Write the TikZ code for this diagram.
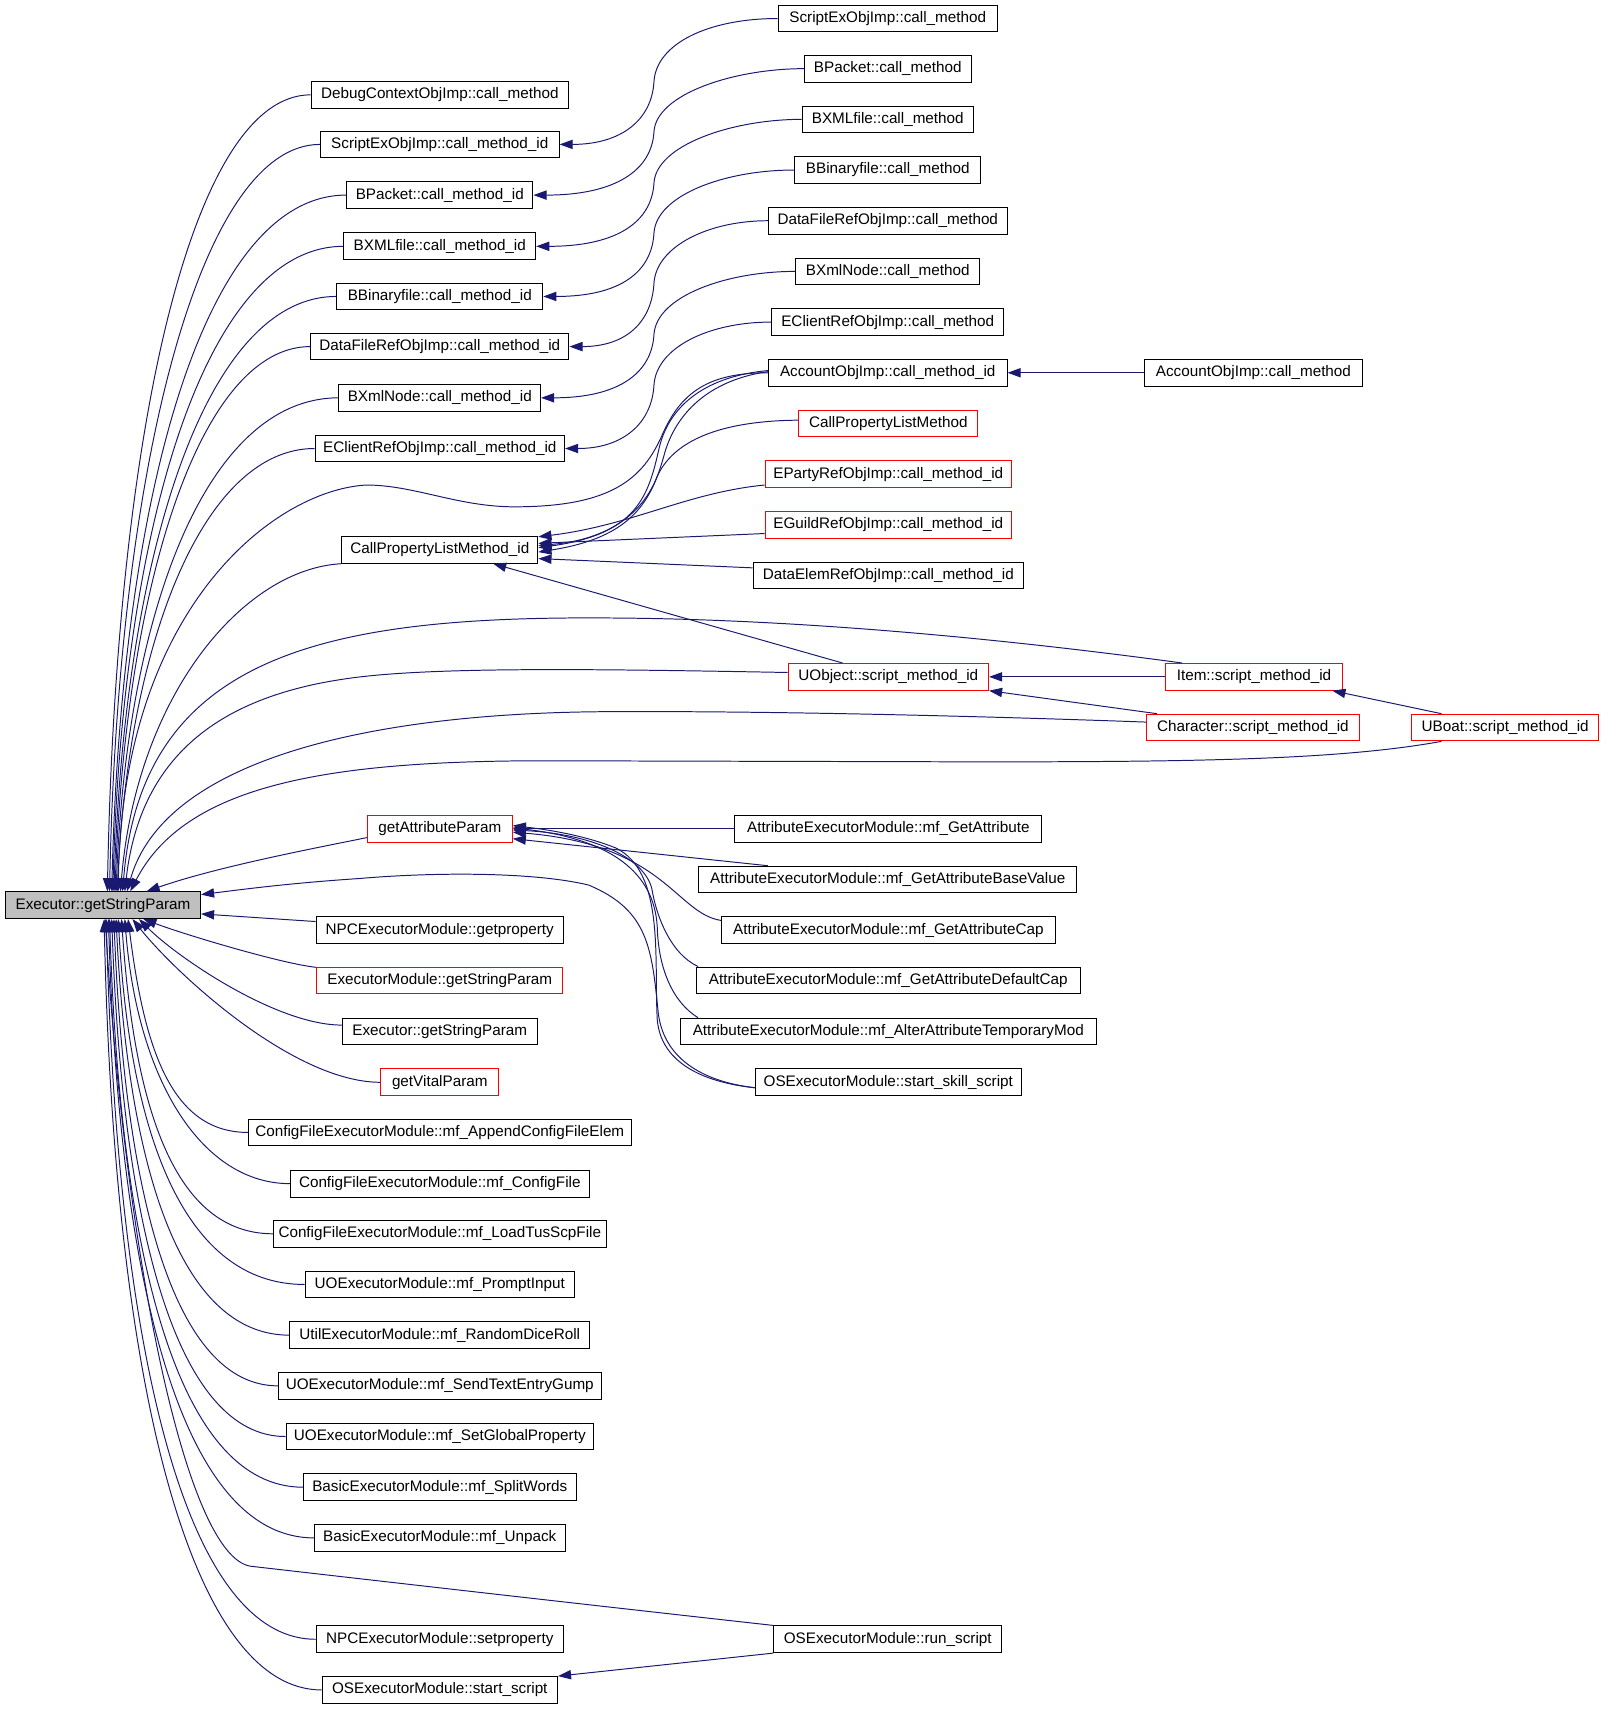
\documentclass[tikz,border=0pt]{standalone}
\usepackage{fontspec}
\setmainfont{Liberation Sans}
\usepackage{tikz}
\usetikzlibrary{arrows.meta, positioning}
\definecolor{edgeblue}{HTML}{191970}
\definecolor{rootgray}{HTML}{BFBFBF}
\tikzstyle{arrow} = [draw=edgeblue, line width=0.9pt, -{Triangle[length=12pt,width=8.5pt]}, fill=none]
\tikzstyle{func} = [rectangle, draw=black, line width=0.9pt, minimum height=24.5pt, inner sep=0pt, text centered, font=\fontsize{14pt}{16pt}\selectfont]
\tikzstyle{func-red} = [func, draw=red]
\tikzstyle{func-root} = [func, fill=rootgray]

\begin{document}
\begin{tikzpicture}[x=1pt, y=1pt]
  \useasboundingbox (0,0) rectangle (1473,-1568);

  % Nodes
  \node (getstr) [func-root, minimum width=179pt] at (94.5,-830.5) {Executor::getStringParam};

  \node (dbgctx) [func, minimum width=236pt] at (403.5,-87) {DebugContextObjImp::call\_method};
  \node (sexid) [func, minimum width=219pt] at (403.5,-132.5) {ScriptExObjImp::call\_method\_id};
  \node (bpackid) [func, minimum width=171pt] at (403.5,-179) {BPacket::call\_method\_id};
  \node (bxmlid) [func, minimum width=176pt] at (403.5,-226) {BXMLfile::call\_method\_id};
  \node (bbinid) [func, minimum width=189pt] at (403.5,-272) {BBinaryfile::call\_method\_id};
  \node (dfrefid) [func, minimum width=237pt] at (403.5,-318) {DataFileRefObjImp::call\_method\_id};
  \node (bxnodeid) [func, minimum width=185pt] at (403.5,-365) {BXmlNode::call\_method\_id};
  \node (eclientid) [func, minimum width=229pt] at (403.5,-411.5) {EClientRefObjImp::call\_method\_id};
  \node (cplmid) [func, minimum width=180pt] at (403.5,-504.5) {CallPropertyListMethod\_id};
  \node (getattr) [func-red, minimum width=133pt] at (403.5,-760.5) {getAttributeParam};
  \node (npcget) [func, minimum width=227pt] at (403.5,-853.5) {NPCExecutorModule::getproperty};
  \node (exmodgsp) [func-red, minimum width=226pt] at (403.5,-899.5) {ExecutorModule::getStringParam};
  \node (exgsp) [func, minimum width=179pt] at (403.5,-946.5) {Executor::getStringParam};
  \node (getvital) [func-red, minimum width=108pt] at (403.5,-993) {getVitalParam};
  \node (cfappend) [func, minimum width=351pt] at (403.5,-1039) {ConfigFileExecutorModule::mf\_AppendConfigFileElem};
  \node (cfconfig) [func, minimum width=274pt] at (403.5,-1086) {ConfigFileExecutorModule::mf\_ConfigFile};
  \node (cfload) [func, minimum width=305pt] at (403.5,-1132) {ConfigFileExecutorModule::mf\_LoadTusScpFile};
  \node (uoprompt) [func, minimum width=247pt] at (403.5,-1178.5) {UOExecutorModule::mf\_PromptInput};
  \node (utildice) [func, minimum width=275pt] at (403.5,-1225) {UtilExecutorModule::mf\_RandomDiceRoll};
  \node (uosendtext) [func, minimum width=296pt] at (403.5,-1271.5) {UOExecutorModule::mf\_SendTextEntryGump};
  \node (uosetglobal) [func, minimum width=282pt] at (403.5,-1318) {UOExecutorModule::mf\_SetGlobalProperty};
  \node (basicsplit) [func, minimum width=250pt] at (403.5,-1364.5) {BasicExecutorModule::mf\_SplitWords};
  \node (basicunpack) [func, minimum width=230pt] at (403.5,-1411) {BasicExecutorModule::mf\_Unpack};
  \node (npcset) [func, minimum width=227pt] at (403.5,-1504) {NPCExecutorModule::setproperty};
  \node (osstart) [func, minimum width=216pt] at (403.5,-1550.5) {OSExecutorModule::start\_script};

  \node (sexcm) [func, minimum width=201pt] at (814.5,-17) {ScriptExObjImp::call\_method};
  \node (bpackcm) [func, minimum width=153pt] at (814.5,-63) {BPacket::call\_method};
  \node (bxmlcm) [func, minimum width=157pt] at (814.5,-109.5) {BXMLfile::call\_method};
  \node (bbincm) [func, minimum width=171pt] at (814.5,-156) {BBinaryfile::call\_method};
  \node (dfrefcm) [func, minimum width=219pt] at (814.5,-202.5) {DataFileRefObjImp::call\_method};
  \node (bxnodecm) [func, minimum width=169pt] at (814.5,-249) {BXmlNode::call\_method};
  \node (eclientcm) [func, minimum width=213pt] at (814.5,-295.5) {EClientRefObjImp::call\_method};
  \node (acctid) [func, minimum width=219pt] at (814.5,-342) {AccountObjImp::call\_method\_id};
  \node (cplm) [func-red, minimum width=164pt] at (815,-388.5) {CallPropertyListMethod};
  \node (epartyid) [func-red, minimum width=226pt] at (815,-435) {EPartyRefObjImp::call\_method\_id};
  \node (eguildid) [func-red, minimum width=226pt] at (815,-481.5) {EGuildRefObjImp::call\_method\_id};
  \node (delemid) [func, minimum width=248pt] at (815,-528) {DataElemRefObjImp::call\_method\_id};
  \node (uobjsmid) [func-red, minimum width=184pt] at (815,-621) {UObject::script\_method\_id};
  \node (mfgetattr) [func, minimum width=282pt] at (815,-760.5) {AttributeExecutorModule::mf\_GetAttribute};
  \node (mfbase) [func, minimum width=347pt] at (814.5,-807) {AttributeExecutorModule::mf\_GetAttributeBaseValue};
  \node (mfcap) [func, minimum width=306pt] at (815,-853.5) {AttributeExecutorModule::mf\_GetAttributeCap};
  \node (mfdefcap) [func, minimum width=352pt] at (815,-899.5) {AttributeExecutorModule::mf\_GetAttributeDefaultCap};
  \node (mfalter) [func, minimum width=382pt] at (815,-946.5) {AttributeExecutorModule::mf\_AlterAttributeTemporaryMod};
  \node (osskill) [func, minimum width=244pt] at (815,-993) {OSExecutorModule::start\_skill\_script};
  \node (osrun) [func, minimum width=209pt] at (814.5,-1504) {OSExecutorModule::run\_script};

  \node (acctcm) [func, minimum width=200pt] at (1150,-342) {AccountObjImp::call\_method};
  \node (itemsmid) [func-red, minimum width=163pt] at (1150.5,-621) {Item::script\_method\_id};
  \node (charsmid) [func-red, minimum width=195pt] at (1149.5,-667.5) {Character::script\_method\_id};
  \node (uboatsmid) [func-red, minimum width=172pt] at (1381,-667.5) {UBoat::script\_method\_id};

  % Arrows into Executor::getStringParam from above
  \draw[arrow] (dbgctx.west) .. controls +(-110,0) and +(8,420) .. ([xshift=4]getstr.north);
  \draw[arrow] (sexid.west) .. controls +(-110,0) and +(8,390) .. ([xshift=6]getstr.north);
  \draw[arrow] (bpackid.west) .. controls +(-130,0) and +(9,365) .. ([xshift=8]getstr.north);
  \draw[arrow] (bxmlid.west) .. controls +(-125,0) and +(9,340) .. ([xshift=9]getstr.north);
  \draw[arrow] (bbinid.west) .. controls +(-120,0) and +(10,310) .. ([xshift=10]getstr.north);
  \draw[arrow] (dfrefid.west) .. controls +(-100,0) and +(10,285) .. ([xshift=11]getstr.north);
  \draw[arrow] (bxnodeid.west) .. controls +(-120,0) and +(10,260) .. ([xshift=12]getstr.north);
  \draw[arrow] (eclientid.west) .. controls +(-100,0) and +(11,235) .. ([xshift=13]getstr.north);
  \draw[arrow] (acctid.west) .. controls (650,-342) and (625,-360) .. (608,-398)
    .. controls (590,-440) and (560,-465) .. (472,-465)
    .. controls (420,-465) and (380,-445) .. (336,-445)
    .. controls (250,-450) and (112,-560) .. ([xshift=14]getstr.north);
  \draw[arrow] (cplmid.south west) .. controls +(-90,-5) and +(15,180) .. ([xshift=16]getstr.north);
  \draw[arrow] ([xshift=16]itemsmid.north west) .. controls (950,-590) and (750,-568) .. (560,-567)
    .. controls (300,-565) and (130,-600) .. ([xshift=18]getstr.north);
  \draw[arrow] ([yshift=4]uobjsmid.west) .. controls (560,-614) and (420,-612) .. (340,-620)
    .. controls (220,-632) and (130,-680) .. ([xshift=20]getstr.north);
  \draw[arrow] ([yshift=5]charsmid.west) .. controls (900,-657) and (700,-652) .. (550,-653)
    .. controls (330,-655) and (150,-700) .. ([xshift=22]getstr.north);
  \draw[arrow] ([xshift=28]uboatsmid.south west) .. controls (1230,-697) and (1100,-699) .. (900,-699)
    -- (500,-698) .. controls (300,-698) and (170,-720) .. ([xshift=25]getstr.north);
  \draw[arrow] ([yshift=-8]getattr.west) .. controls (290,-778) and (200,-795) .. ([xshift=40]getstr.north);
  \draw[arrow] ([yshift=-5]osskill.west) .. controls (650,-993) and (610,-975) .. (604,-930)
    .. controls (598,-870) and (595,-835) .. (540,-812)
    .. controls (490,-800) and (400,-800) .. (330,-806)
    .. controls (270,-810) and (230,-815) .. ([yshift=-3]getstr.north east);

  % Arrows into Executor::getStringParam from the right and below
  \draw[arrow] ([yshift=8]npcget.west) -- ([yshift=-8]getstr.east);
  \draw[arrow] ([yshift=12]exmodgsp.west) .. controls +(-30,3) and +(40,-15) .. ([xshift=37]getstr.south);
  \draw[arrow] ([yshift=6]exgsp.west) .. controls +(-60,0) and +(35,-35) .. ([xshift=33]getstr.south);
  \draw[arrow] (getvital.west) .. controls +(-80,0) and +(40,-50) .. ([xshift=27]getstr.south);
  \draw[arrow] (cfappend.west) .. controls +(-70,0) and +(15,-120) .. ([xshift=23]getstr.south);
  \draw[arrow] (cfconfig.west) .. controls +(-80,0) and +(12,-150) .. ([xshift=20]getstr.south);
  \draw[arrow] (cfload.west) .. controls +(-90,0) and +(12,-175) .. ([xshift=17]getstr.south);
  \draw[arrow] (uoprompt.west) .. controls +(-110,0) and +(11,-200) .. ([xshift=14]getstr.south);
  \draw[arrow] (utildice.west) .. controls +(-100,0) and +(11,-230) .. ([xshift=12]getstr.south);
  \draw[arrow] (uosendtext.west) .. controls +(-95,0) and +(10,-255) .. ([xshift=10]getstr.south);
  \draw[arrow] (uosetglobal.west) .. controls +(-100,0) and +(10,-285) .. ([xshift=8]getstr.south);
  \draw[arrow] (basicsplit.west) .. controls +(-115,0) and +(10,-310) .. ([xshift=6]getstr.south);
  \draw[arrow] (basicunpack.west) .. controls +(-120,0) and +(10,-340) .. ([xshift=5]getstr.south);
  \draw[arrow] (osrun.north west) .. controls (500,-1468) and (300,-1445) .. (230,-1437)
    .. controls (170,-1428) and (115,-1150) .. ([xshift=2]getstr.south);
  \draw[arrow] (npcset.west) .. controls +(-120,0) and +(10,-395) .. ([xshift=3]getstr.south);
  \draw[arrow] (osstart.west) .. controls +(-115,0) and +(10,-450) .. ([xshift=1]getstr.south);

  % call_method -> call_method_id
  \draw[arrow] (sexcm.west) .. controls (650,-17) and (602,-40) .. (600,-75)
    .. controls (598,-110) and (570,-132.5) .. (sexid.east);
  \draw[arrow] (bpackcm.west) .. controls (674,-63) and (602,-86) .. (600,-121)
    .. controls (598,-156) and (565,-179) .. (bpackid.east);
  \draw[arrow] (bxmlcm.west) .. controls (672,-109.5) and (602,-133) .. (600,-168)
    .. controls (598,-203) and (567,-226) .. (bxmlid.east);
  \draw[arrow] (bbincm.west) .. controls (665,-156) and (602,-179) .. (600,-214)
    .. controls (598,-249) and (570,-272) .. (bbinid.east);
  \draw[arrow] (dfrefcm.west) .. controls (650,-202.5) and (602,-226) .. (600,-260)
    .. controls (598,-295) and (575,-318) .. (dfrefid.east);
  \draw[arrow] (bxnodecm.west) .. controls (666,-249) and (602,-272) .. (600,-307)
    .. controls (598,-342) and (568,-365) .. (bxnodeid.east);
  \draw[arrow] (eclientcm.west) .. controls (650,-295.5) and (602,-319) .. (600,-353.5)
    .. controls (598,-388) and (572,-411.5) .. (eclientid.east);
  \draw[arrow] (acctcm.west) -- (acctid.east);

  % Arrows into CallPropertyListMethod_id
  \draw[arrow] ([yshift=2]acctid.west) .. controls (650,-345) and (615,-370) .. (605,-410)
    .. controls (595,-455) and (585,-490) .. ([yshift=2]cplmid.east);
  \draw[arrow] ([yshift=1]acctid.west) .. controls (655,-348) and (622,-375) .. (610,-415)
    .. controls (598,-460) and (580,-493) .. ([yshift=-2]cplmid.east);
  \draw[arrow] ([yshift=3]cplm.west) .. controls (670,-386) and (620,-400) .. (603,-437)
    .. controls (590,-470) and (560,-495) .. ([yshift=4]cplmid.east);
  \draw[arrow] ([yshift=-10]epartyid.west) .. controls (630,-452) and (580,-482) .. ([yshift=12]cplmid.east);
  \draw[arrow] ([yshift=-8]eguildid.west) -- ([yshift=6]cplmid.east);
  \draw[arrow] ([yshift=7]delemid.west) -- ([yshift=-8]cplmid.east);
  \draw[arrow] ([xshift=-42]uobjsmid.north) -- ([xshift=49]cplmid.south);

  % script_method_id
  \draw[arrow] (itemsmid.west) -- (uobjsmid.east);
  \draw[arrow] ([xshift=10]charsmid.north west) -- (uobjsmid.south east);
  \draw[arrow] ([xshift=28]uboatsmid.north west) -- ([xshift=-10]itemsmid.south east);

  % Arrows into getAttributeParam
  \draw[arrow] (mfgetattr.west) -- (getattr.east);
  \draw[arrow] ([xshift=64]mfbase.north west) -- ([yshift=-9]getattr.east);
  \draw[arrow] ([yshift=9]mfcap.west) .. controls (620,-838) and (610,-775) .. ([yshift=-3]getattr.east);
  \draw[arrow] ([xshift=2]mfdefcap.north west) .. controls (615,-875) and (602,-840) .. (598,-815)
    .. controls (590,-785) and (540,-765) .. ([yshift=-1]getattr.east);
  \draw[arrow] ([xshift=17]mfalter.north west) .. controls (618,-920) and (604,-890) .. (603,-850)
    .. controls (600,-800) and (560,-770) .. ([yshift=1]getattr.east);
  \draw[arrow] ([yshift=-5]osskill.west) .. controls (645,-993) and (606,-975) .. (603,-935)
    .. controls (600,-880) and (610,-800) .. (565,-778)
    .. controls (540,-768) and (510,-762) .. ([yshift=3]getattr.east);

  % run_script
  \draw[arrow] (osrun.south west) -- (osstart.north east);

\end{tikzpicture}
\end{document}
